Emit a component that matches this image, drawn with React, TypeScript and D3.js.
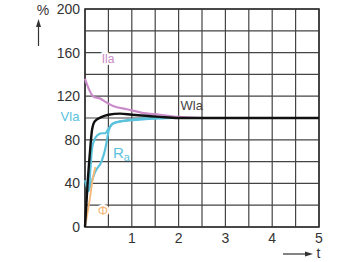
import React from "react";
import * as d3 from "d3";

const xTicks = [1, 2, 3, 4, 5];
const yTicks = [0, 40, 80, 120, 160, 200];

const ilaT = [0, 0.04, 0.2, 0.32, 0.43, 0.6, 0.9, 1.2, 1.6, 2.0, 2.5, 5];
const ilaV = [136, 131, 119, 118, 115, 111, 108, 105, 103, 101, 100, 100];

const wlaT = [0, 0.06, 0.11, 0.15, 0.21, 0.36, 0.5, 0.75, 1.0, 1.3, 1.6, 2.0, 5];
const wlaV = [0, 43, 71, 89, 97, 101, 103, 104, 103, 102, 101, 100, 100];

const vlaT = [0, 0.08, 0.11, 0.15, 0.2, 0.26, 0.36, 0.43, 0.5, 0.6, 0.8, 1.0, 1.5, 2.0, 5];
const vlaV = [43, 33, 50, 72, 80, 84, 86, 86, 90, 95, 97, 98, 99.5, 100, 100];

const raT = [0.08, 0.21, 0.36, 0.43, 0.47, 0.51, 0.6, 0.9, 1.5, 2.0, 5];
const raV = [33, 50, 61, 71, 80, 89, 95, 98, 100, 100, 100];

const phiT = [0, 0.1, 0.17, 0.22];
const phiV = [0, 25, 45, 55];

const W = 360, H = 262;
const x = d3.scaleLinear().domain([0, 5]).range([85, 319]);
const y = d3.scaleLinear().domain([0, 200]).range([227, 9]);

const line = d3
  .line<[number, number]>()
  .x((d) => x(d[0]))
  .y((d) => y(d[1]))
  .curve(d3.curveMonotoneX);

const pts = (t: number[], v: number[]) => t.map((tt, i) => [tt, v[i]] as [number, number]);

const font = "'Liberation Sans', Arial, Helvetica, sans-serif";

export default function App() {
  const vGrid = d3.range(0, 5.01, 0.5);
  const hGrid = d3.range(0, 201, 20);
  const halo = { paintOrder: "stroke" as const, stroke: "#fff", strokeWidth: 4, strokeLinejoin: "round" as const };
  return (
    <svg width={W} height={H} style={{ position: "absolute", left: 0, top: 0, background: "#fff" }} fontFamily={font}>
      <rect width={W} height={H} fill="#fff" />
      {vGrid.map((t) => (
        <line key={"v" + t} x1={x(t)} x2={x(t)} y1={y(0)} y2={y(200)} stroke="#444" strokeWidth={1.2} />
      ))}
      {hGrid.map((v) => (
        <line key={"h" + v} x1={x(0)} x2={x(5)} y1={y(v)} y2={y(v)} stroke="#444" strokeWidth={1.2} />
      ))}
      <rect x={x(0)} y={y(200)} width={x(5) - x(0)} height={y(0) - y(200)} fill="none" stroke="#333" strokeWidth={1.6} />

      {yTicks.map((v) => (
        <text key={"yt" + v} x={80} y={y(v)} textAnchor="end" dominantBaseline="central" fontSize={14} fill="#333">
          {v}
        </text>
      ))}
      {xTicks.map((t) => (
        <text key={"xt" + t} x={x(t)} y={243} textAnchor="middle" fontSize={14} fill="#333">
          {t}
        </text>
      ))}

      <text x={43} y={10} textAnchor="middle" dominantBaseline="central" fontSize={14} fill="#333">%</text>
      <line x1={38.5} x2={38.5} y1={46} y2={25} stroke="#333" strokeWidth={1.2} />
      <path d="M38.5,19 L36,27 L41,27 Z" fill="#333" />
      <line x1={283} x2={306} y1={254} y2={254} stroke="#333" strokeWidth={1.2} />
      <path d="M313,254 L305,251.5 L305,256.5 Z" fill="#333" />
      <text x={318.5} y={258} textAnchor="middle" fontSize={14} fill="#333">t</text>

      <path d={line(pts(ilaT, ilaV)) || ""} fill="none" stroke="#c98cc9" strokeWidth={2.2} />
      <path d={line(pts(raT, raV)) || ""} fill="none" stroke="#5bc2dc" strokeWidth={2.2} />
      <path d={line(pts(vlaT, vlaV)) || ""} fill="none" stroke="#5bc2dc" strokeWidth={2.2} />
      <path d={line(pts(phiT, phiV)) || ""} fill="none" stroke="#f7b877" strokeWidth={1.8} />
      <path d={line(pts(wlaT, wlaV)) || ""} fill="none" stroke="#111" strokeWidth={2.4} />

      <text x={108} y={63} textAnchor="middle" fontSize={12} fill="#c98cc9" style={halo}>Ila</text>
      <text x={180.5} y={110} fontSize={13} fill="#444">Wla</text>
      <text x={70} y={121} textAnchor="middle" fontSize={13} fill="#5bc2dc">Vla</text>
      <text x={113} y={158} fontSize={15} fill="#5bc2dc">
        R<tspan fontSize={11} dy={3}>a</tspan>
      </text>
      <text x={103} y={215} textAnchor="middle" fontSize={13} fill="#f7b877" style={halo}>Φ</text>
    </svg>
  );
}
